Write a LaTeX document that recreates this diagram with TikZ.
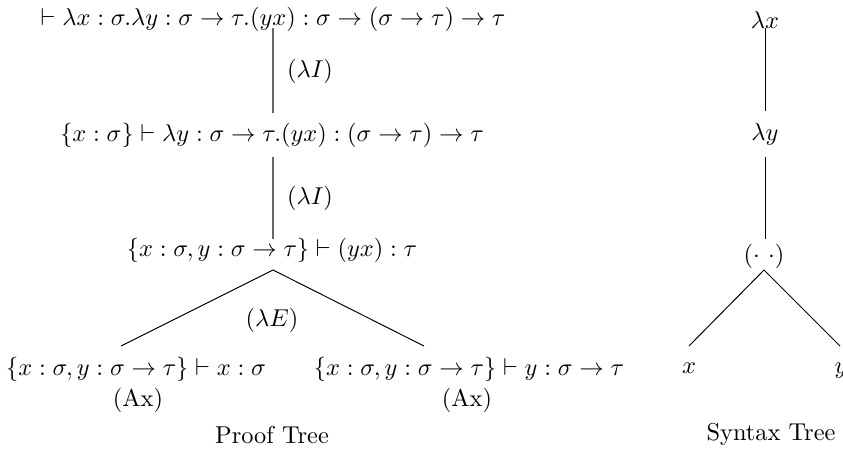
\documentclass[tikz,border=0pt]{standalone}
\usetikzlibrary{calc}
\begin{document}
\begin{tikzpicture}[x=0.41pt,y=-0.41pt,
  lbl/.style={anchor=base,inner sep=0pt},
  proofline/.style={draw=black!60,line width=0.8pt},
  treeline/.style={draw=black,line width=0.4pt}]
\useasboundingbox (0,0) rectangle (843,452);
% Proof tree
\node[lbl] (p1) at (273,25) {$\vdash \lambda x:\sigma.\lambda y:\sigma\to\tau.(yx):\sigma\to(\sigma\to\tau)\to\tau$};
\node[lbl] (p2) at (272,141) {$\{x:\sigma\}\vdash\lambda y:\sigma\to\tau.(yx):(\sigma\to\tau)\to\tau$};
\node[lbl] (p3) at (272,256) {$\{x:\sigma,y:\sigma\to\tau\}\vdash(yx):\tau$};
\node[lbl] (pl) at (136,375) {$\{x:\sigma,y:\sigma\to\tau\}\vdash x:\sigma$};
\node[lbl] (pr) at (469,375) {$\{x:\sigma,y:\sigma\to\tau\}\vdash y:\sigma\to\tau$};
\node[lbl] (r1) at (310,77) {$(\lambda I)$};
\node[lbl] (r2) at (310,204) {$(\lambda I)$};
\node[lbl] (r3) at (272,326) {$(\lambda E)$};
\node[lbl] (axl) at (138,406) {(Ax)};
\node[lbl] (axr) at (467,406) {(Ax)};
\node[lbl] (pt) at (272,443) {Proof Tree};
\draw[proofline] ($(p1.base)+(0,3)$) -- ($(p2.base)+(1,-28)$);
\draw[proofline] ($(p2.base)+(1,16)$) -- ($(p3.base)+(1,-17)$);
\draw[treeline] ($(p3.base)+(1,14)$) -- ($(pl.base)+(-15,-29)$);
\draw[treeline] ($(p3.base)+(1,14)$) -- ($(pr.base)+(-45,-29)$);
% Syntax tree
\node[lbl] (sx) at (765,28) {$\lambda x$};
\node[lbl] (sy) at (765,140) {$\lambda y$};
\node[lbl] (sa) at (764,262) {$(\cdot\ \cdot)$};
\node[lbl] (vx) at (689,373) {$x$};
\node[lbl] (vy) at (841,373) {$y$};
\node[lbl] (st) at (771,440) {Syntax Tree};
\draw[treeline] (sx.base) -- ($(sy.base)+(0,-29)$);
\draw[treeline] ($(sy.base)+(0,17)$) -- ($(sa.base)+(1,-23)$);
\draw[treeline] ($(sa.base)+(0,8)$) -- ($(vx.base)+(0,-27)$);
\draw[treeline] ($(sa.base)+(0,8)$) -- ($(vy.base)+(-1,-27)$);
\end{tikzpicture}
\end{document}
